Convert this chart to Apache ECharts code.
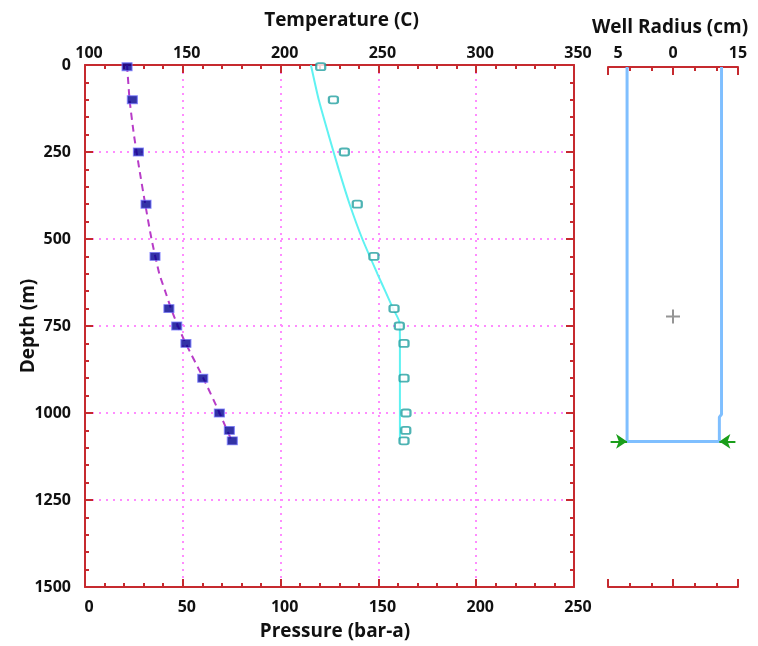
<!DOCTYPE html>
<html>
<head>
<meta charset="utf-8">
<title>Well profile</title>
<script src="https://cdn.jsdelivr.net/npm/echarts@6/dist/echarts.min.js"></script>
<style>
  html, body { margin: 0; padding: 0; background: #fff; }
  #chart { width: 758px; height: 646px; }
</style>
</head>
<body>
<div id="chart"></div>
<script>
// Axis tick values
const depthTicks = [0, 250, 500, 750, 1000, 1250, 1500];
const tempTicks = [100, 150, 200, 250, 300, 350];
const pressureTicks = [0, 50, 100, 150, 200, 250];
const radiusTicks = [-15, 0, 15];
const radiusTickText = ['5', '0', '15'];

// Measured points (depth in m)
const obsDepth = [5, 100, 250, 400, 550, 700, 750, 800, 900, 1000, 1050, 1080];
const pressureObs = [21.5, 24.2, 27.3, 31.2, 35.8, 42.9, 46.9, 51.6, 60.2, 68.7, 73.8, 75.3];
const tempObs = [220.5, 227, 232.6, 239.2, 247.7, 258, 260.7, 263.1, 263.1, 264.1, 264, 263.1];

// Simulated profiles
const pressureFitDepth = [0, 100, 200, 300, 400, 500, 600, 650, 700, 750, 800, 900, 1000, 1080];
const pressureFit = [21.5, 22.8, 25.0, 27.8, 30.8, 34.0, 38.0, 41.0, 44.0, 47.5, 51.5, 60.5, 68.8, 75.0];
const tempFitDepth = [0, 100, 200, 300, 400, 500, 600, 650, 700, 740, 800, 900, 1000, 1080];
const tempFit = [215.5, 219.5, 224.5, 229.7, 235.3, 241.8, 249.5, 253.5, 257.5, 260.8, 261, 261, 261, 261];

// Well geometry (radius in cm, depth in m)
const wellRadius = [-10.6, -10.6, 10.7, 10.7, 11.2, 11.2];
const wellDepth = [0, 1080, 1080, 1010, 1002, 0];
const feedDepth = 1080;
const feedArrowLeft = [-14.4, -10.6];
const feedArrowRight = [14.4, 10.7];
const wellCentre = [0, 720];

const zip = (xs, ys) => xs.map((x, i) => [x, ys[i]]);

const RED = '#c62a2f';
const PINK = '#ff8cff';
const FONT = 'Open Sans';
const labelStyle = { color: '#111', fontFamily: FONT, fontWeight: 'bold', fontSize: 16 };
const nameStyle = { color: '#111', fontFamily: FONT, fontWeight: 'bold', fontSize: 19 };

function frameAxis(extra) {
  return Object.assign({
    type: 'value',
    nameMoveOverlap: false,
    axisLine: { show: true, onZero: false, lineStyle: { color: RED, width: 2 } },
    axisTick: { show: true, inside: true, length: 8, lineStyle: { color: RED, width: 2 } },
    minorTick: { show: true, splitNumber: 5, length: 4, lineStyle: { color: RED, width: 2 } },
    splitLine: { show: false },
    axisLabel: Object.assign({}, labelStyle)
  }, extra);
}

const plain = v => String(v);
const gridLine = { show: true, lineStyle: { color: PINK, width: 2, type: [2, 5] } };

const option = {
  animation: false,
  backgroundColor: '#fff',
  grid: [
    { left: 85, top: 65, width: 489, height: 522 },
    { left: 608, top: 67, width: 130, height: 520 }
  ],
  xAxis: [
    frameAxis({
      gridIndex: 0, position: 'top',
      min: tempTicks[0], max: tempTicks[tempTicks.length - 1], interval: tempTicks[1] - tempTicks[0],
      splitLine: gridLine,
      axisLabel: Object.assign({}, labelStyle, { margin: 4, formatter: plain, padding: [0, 0, 0, 8] }),
      name: 'Temperature (C)', nameLocation: 'middle', nameGap: 35,
      nameTextStyle: Object.assign({}, nameStyle, { padding: [0, 0, 0, 24] })
    }),
    frameAxis({
      gridIndex: 0, position: 'bottom',
      min: pressureTicks[0], max: pressureTicks[pressureTicks.length - 1], interval: pressureTicks[1] - pressureTicks[0],
      axisLabel: Object.assign({}, labelStyle, { margin: 12, formatter: plain, padding: [0, 0, 0, 8] }),
      name: 'Pressure (bar-a)', nameLocation: 'middle', nameGap: 35,
      nameTextStyle: Object.assign({}, nameStyle, { padding: [0, 0, 0, 11] })
    }),
    frameAxis({
      gridIndex: 1, position: 'top',
      min: radiusTicks[0], max: radiusTicks[radiusTicks.length - 1], interval: radiusTicks[1] - radiusTicks[0],
      minorTick: { show: true, splitNumber: 3, length: 4, lineStyle: { color: RED, width: 2 } },
      axisLabel: Object.assign({}, labelStyle, {
        margin: 6,
        formatter: v => {
          const i = radiusTicks.indexOf(v);
          return i === 0 ? '{lead|' + radiusTickText[i] + '}' : (i >= 0 ? radiusTickText[i] : '');
        },
        rich: { lead: Object.assign({}, labelStyle, { padding: [0, 0, 0, 20] }) }
      }),
      name: 'Well Radius (cm)', nameLocation: 'middle', nameGap: 30,
      nameTextStyle: Object.assign({}, nameStyle, { padding: [0, 6, 0, 0] })
    }),
    frameAxis({
      gridIndex: 1, position: 'bottom',
      min: radiusTicks[0], max: radiusTicks[radiusTicks.length - 1], interval: radiusTicks[1] - radiusTicks[0],
      minorTick: { show: true, splitNumber: 3, length: 4, lineStyle: { color: RED, width: 2 } },
      axisLabel: { show: false }
    })
  ],
  yAxis: [
    frameAxis({
      gridIndex: 0, position: 'left', inverse: true,
      min: depthTicks[0], max: depthTicks[depthTicks.length - 1], interval: depthTicks[1] - depthTicks[0],
      splitLine: gridLine,
      axisLabel: Object.assign({}, labelStyle, { margin: 14, formatter: plain }),
      name: 'Depth (m)', nameLocation: 'middle', nameGap: 47,
      nameTextStyle: Object.assign({}, nameStyle)
    }),
    frameAxis({
      gridIndex: 0, position: 'right', inverse: true,
      min: depthTicks[0], max: depthTicks[depthTicks.length - 1], interval: depthTicks[1] - depthTicks[0],
      axisLabel: { show: false }
    }),
    {
      type: 'value', gridIndex: 1, inverse: true,
      min: depthTicks[0], max: depthTicks[depthTicks.length - 1],
      show: false
    }
  ],
  series: [
    {
      name: 'Temperature model', type: 'line', xAxisIndex: 0, yAxisIndex: 0,
      data: zip(tempFit, tempFitDepth), symbol: 'none', smooth: 0.2,
      lineStyle: { color: '#5ff2f2', width: 2 }, z: 3
    },
    {
      name: 'Pressure model', type: 'line', xAxisIndex: 1, yAxisIndex: 0,
      data: zip(pressureFit, pressureFitDepth), symbol: 'none', smooth: 0.2,
      lineStyle: { color: '#b83cc8', width: 2, type: [7, 5] }, z: 3
    },
    {
      name: 'Temperature', type: 'scatter', xAxisIndex: 0, yAxisIndex: 0,
      data: zip(tempObs, obsDepth), symbol: 'roundRect', symbolSize: [9, 7],
      itemStyle: { color: '#fff', borderColor: '#22a0a0', borderWidth: 2 }, z: 4
    },
    {
      name: 'Pressure', type: 'scatter', xAxisIndex: 1, yAxisIndex: 0,
      data: zip(pressureObs, obsDepth), symbol: 'rect', symbolSize: [10, 8],
      itemStyle: { color: '#000090', borderColor: '#7878ff', borderWidth: 1 }, z: 4
    },
    {
      name: 'Well', type: 'line', xAxisIndex: 2, yAxisIndex: 2,
      data: zip(wellRadius, wellDepth), symbol: 'none',
      lineStyle: { color: '#7fbfff', width: 3 },
      markLine: {
        silent: true, symbol: ['none', 'arrow'], symbolSize: [11, 11],
        lineStyle: { color: '#1a9e1a', width: 2, type: 'solid' },
        label: { show: false },
        data: [
          [{ coord: [feedArrowLeft[0], feedDepth] }, { coord: [feedArrowLeft[1], feedDepth] }],
          [{ coord: [feedArrowRight[0], feedDepth] }, { coord: [feedArrowRight[1], feedDepth] }]
        ]
      }
    },
    {
      name: 'Centre', type: 'scatter', xAxisIndex: 2, yAxisIndex: 2,
      data: [wellCentre],
      symbol: 'path://M6 0H8V6H14V8H8V14H6V8H0V6H6Z', symbolSize: 14,
      itemStyle: { color: '#7a7a7a' }
    }
  ]
};

const chart = echarts.init(document.getElementById('chart'), null, { renderer: 'canvas' });
chart.setOption(option);
</script>
</body>
</html>
